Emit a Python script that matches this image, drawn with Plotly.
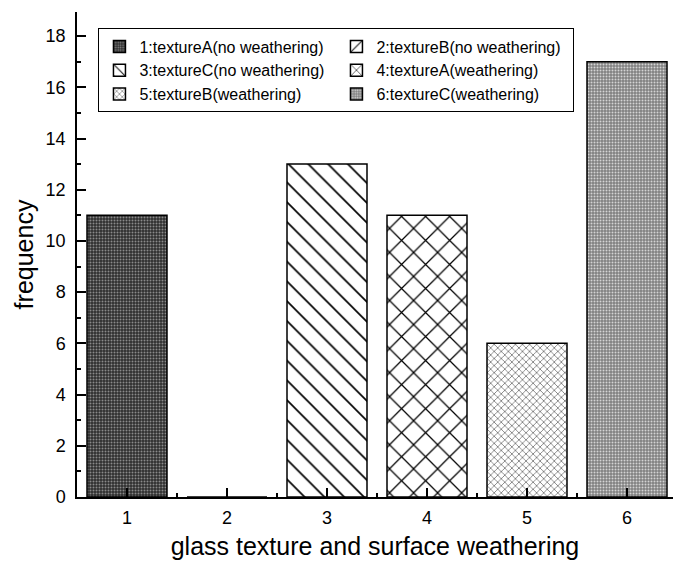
import plotly.graph_objects as go

categories = [1, 2, 3, 4, 5, 6]
frequency = [11, 0, 13, 11, 6, 17]
names = ["1:textureA(no weathering)", "2:textureB(no weathering)",
         "3:textureC(no weathering)", "4:textureA(weathering)",
         "5:textureB(weathering)", "6:textureC(weathering)"]

patterns = [
    dict(shape=".", bgcolor="#2e2e2e", fgcolor="#8a8a8a", size=3, solidity=0.35),
    dict(shape="/", bgcolor="white", fgcolor="black", size=12, solidity=0.12),
    dict(shape="\\", bgcolor="white", fgcolor="black", size=14, solidity=0.12),
    dict(shape="x", bgcolor="white", fgcolor="black", size=17, solidity=0.14),
    dict(shape="x", bgcolor="white", fgcolor="#777777", size=5, solidity=0.3),
    dict(shape=".", bgcolor="#808080", fgcolor="#d4d4d4", size=3, solidity=0.35),
]

fig = go.Figure()
for c, v, n, p in zip(categories, frequency, names, patterns):
    fig.add_trace(go.Bar(
        x=[c], y=[v], name=n, width=0.8,
        marker=dict(color=p["bgcolor"], pattern=dict(fillmode="replace", **p),
                    line=dict(color="black", width=1.5)),
    ))

font = "Liberation Sans, Arial, sans-serif"
fig.update_layout(
    width=673, height=567,
    margin=dict(l=77, r=0, t=12, b=70),
    plot_bgcolor="white", paper_bgcolor="white",
    font=dict(family=font, color="black"),
    showlegend=True,
    legend=dict(
        orientation="h", x=0.036, y=0.966, xanchor="left", yanchor="top",
        entrywidth=192, entrywidthmode="pixels",
        bordercolor="black", borderwidth=1, bgcolor="white",
        font=dict(size=16, family=font), tracegroupgap=0,
    ),
    bargap=0.2,
)
fig.update_xaxes(
    range=[0.5, 6.46], tickvals=categories, ticks="inside", ticklen=9, tickwidth=1.5,
    tickcolor="black", showline=True, linecolor="black", linewidth=1.5,
    showgrid=False, zeroline=False, tickfont=dict(size=18), ticklabelstandoff=4,
    minor=dict(ticks="inside", ticklen=4, tickwidth=1.5, tickcolor="black", dtick=0.5, tick0=0.5, showgrid=False),
    title=dict(text="glass texture and surface weathering", font=dict(size=25), standoff=10),
)
fig.update_yaxes(
    range=[0, 18.94], dtick=2, ticks="inside", ticklen=9, tickwidth=1.5,
    tickcolor="black", showline=True, linecolor="black", linewidth=1.5,
    showgrid=False, zeroline=False, tickfont=dict(size=18), ticklabelstandoff=6,
    minor=dict(ticks="inside", ticklen=4, tickwidth=1.5, tickcolor="black", dtick=1, showgrid=False),
    title=dict(text="frequency", font=dict(size=25), standoff=5),
)

fig.write_html("out.html")
